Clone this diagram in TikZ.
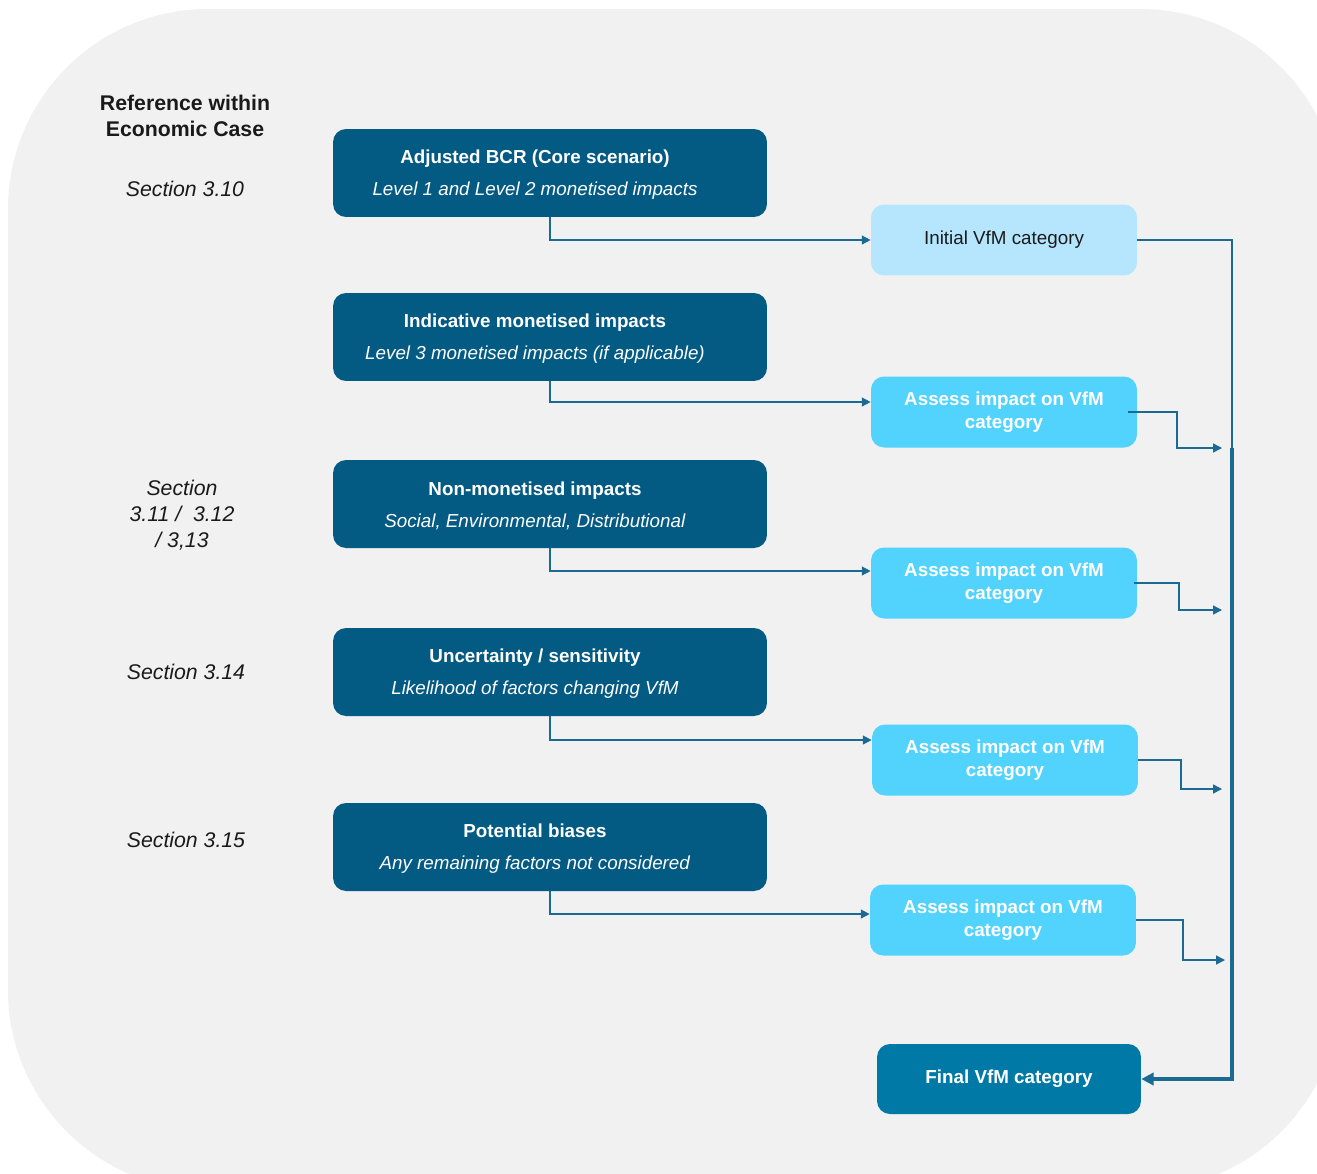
\documentclass[tikz,border=0pt]{standalone}
\usepackage{fontspec}
\setmainfont{Liberation Sans}
\usepackage{xcolor}
\usepackage{tikz}
\usetikzlibrary{arrows.meta, calc}
\definecolor{ec-bg}{HTML}{F1F1F1}
\definecolor{ec-dark}{HTML}{035A83}
\definecolor{ec-final}{HTML}{0079A6}
\definecolor{ec-cyan}{HTML}{52D3FE}
\definecolor{ec-pale}{HTML}{B5E6FD}
\definecolor{ec-line}{HTML}{1B6A93}
\definecolor{ec-text}{HTML}{1A1A1A}

\begin{document}
\begin{tikzpicture}[
			x=0.02cm, y=-0.02cm,
			impactbox/.style={
				draw=none, fill=ec-dark,
				rounded corners=0.26cm,
				minimum width=8.68cm, minimum height=1.76cm
			},
			impacttext/.style={
				align=center, text=white, inner sep=0pt,
				font=\fontsize{10.7}{12.8}\selectfont
			},
			vfmbox/.style={
				draw=none, fill=ec-cyan,
				rounded corners=0.26cm,
				minimum width=5.32cm, minimum height=1.42cm,
				align=center, text=white,
				font=\fontsize{10.7}{13}\selectfont\bfseries
			},
			initbox/.style={
				vfmbox, fill=ec-pale, text=ec-text,
				font=\fontsize{10.7}{13}\selectfont
			},
			finalbox/.style={
				vfmbox, fill=ec-final, minimum width=5.28cm, minimum height=1.4cm
			},
			reflabel/.style={
				align=center, text=ec-text,
				font=\fontsize{12.1}{14.7}\selectfont\itshape
			},
			link/.style={
				draw=ec-line, line width=0.8pt,
				-{Triangle[length=5pt,width=5pt]}
			},
			feed/.style={
				draw=ec-line, line width=0.8pt
			},
			bus/.style={
				draw=ec-line, line width=2.3pt
			}
			]
			
			\useasboundingbox (0,0) rectangle (1317,1173);
			\fill[ec-bg, rounded corners=4cm] (8,9) rectangle (1340,1190);
			
			\node[reflabel, font=\fontsize{12.1}{14.7}\selectfont\bfseries] (ref) at (185,116)
			{Reference within\\Economic Case};
			\node[reflabel] (sec1) at (185,189) {Section 3.10};
			\node[reflabel] (sec2) at (182,515) {Section\\3.11 /\ \ 3.12\\/ 3,13};
			\node[reflabel] (sec3) at (186,672) {Section 3.14};
			\node[reflabel] (sec4) at (186,840) {Section 3.15};
			
			\node[impactbox] (bcr) at (550,173) {};
			\node[impacttext] (bcr-t) at (535,175)
			{\textbf{Adjusted BCR (Core scenario)}\\[5.5pt]\textit{Level 1 and Level 2 monetised impacts}};
			\node[impactbox] (ind) at (550,337) {};
			\node[impacttext] (ind-t) at (535,339)
			{\textbf{Indicative monetised impacts}\\[5.5pt]\textit{Level 3 monetised impacts (if applicable)}};
			\node[impactbox] (non) at (550,504) {};
			\node[impacttext] (non-t) at (535,506)
			{\textbf{Non-monetised impacts}\\[5.5pt]\textit{Social, Environmental, Distributional}};
			\node[impactbox] (unc) at (550,672) {};
			\node[impacttext] (unc-t) at (535,674)
			{\textbf{Uncertainty / sensitivity}\\[5.5pt]\textit{Likelihood of factors changing VfM}};
			\node[impactbox] (bias) at (550,847) {};
			\node[impacttext] (bias-t) at (535,849)
			{\textbf{Potential biases}\\[5.5pt]\textit{Any remaining factors not considered}};
			
			\node[initbox] (init) at (1004,240) {Initial VfM category};
			\node[vfmbox] (as1) at (1004,412) {Assess impact on VfM\\category};
			\node[vfmbox] (as2) at (1004,583) {Assess impact on VfM\\category};
			\node[vfmbox] (as3) at (1005,760) {Assess impact on VfM\\category};
			\node[vfmbox] (as4) at (1003,920) {Assess impact on VfM\\category};
			\node[finalbox] (final) at (1009,1079) {Final VfM category};
			
			\coordinate (top) at (1232,448);
			\coordinate (corner) at (1232,1079);
			
			\draw[link] (bcr.south) |- (init.west);
			\draw[link] (ind.south) |- ([yshift=0.2cm]as1.west);
			\draw[link] (non.south) |- ([yshift=0.24cm]as2.west);
			\draw[link] (unc.south) |- ([yshift=0.4cm]as3.west);
			\draw[link] (bias.south) |- ([yshift=0.12cm]as4.west);
			
			\draw[feed] (init.east) -| (top);
			\draw[link] ([xshift=-0.18cm]as1.east) -| (1177,448) -- (1222,448);
			\draw[link] ([xshift=-0.06cm]as2.east) -| (1179,610) -- (1222,610);
			\draw[link] (as3.east) -| (1181,789) -- (1222,789);
			\draw[link] (as4.east) -| (1183,960) -- (1225,960);
			
			\draw[bus, -{Triangle[length=7pt,width=7pt]}] (top) -- (corner) -- (final.east);
			
		\end{tikzpicture}
\end{document}
